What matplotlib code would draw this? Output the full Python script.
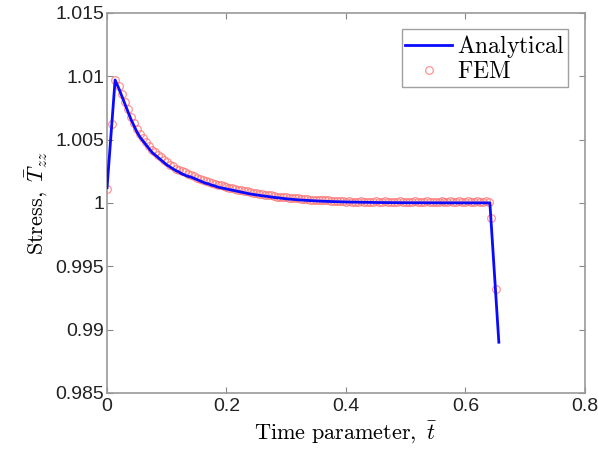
import numpy as np
import matplotlib
matplotlib.use('Agg')
import matplotlib.pyplot as plt

plt.rcParams['mathtext.fontset'] = 'cm'
plt.rcParams['font.family'] = ['Liberation Sans', 'DejaVu Sans']

#Analytical solution
t_an = [0.0, 0.0135, 0.02, 0.025, 0.03, 0.035, 0.04, 0.045, 0.05, 0.055, 0.06,
        0.065, 0.07, 0.075, 0.08, 0.085, 0.09, 0.095, 0.10, 0.105, 0.11, 0.115,
        0.12, 0.125, 0.13, 0.135, 0.14, 0.145, 0.15, 0.155, 0.16, 0.165, 0.17,
        0.175, 0.18, 0.185, 0.19, 0.195, 0.20, 0.21, 0.22, 0.23, 0.24, 0.25,
        0.26, 0.27, 0.28, 0.29, 0.30, 0.31, 0.32, 0.34, 0.36, 0.38, 0.40, 0.45,
        0.50, 0.55, 0.60, 0.641, 0.656]
s_an = [1.0012, 1.0097, 1.0090, 1.0084, 1.0078, 1.0072, 1.0066, 1.0061, 1.0056,
        1.0052, 1.0049, 1.0046, 1.0043, 1.0040, 1.0038, 1.0036, 1.0034, 1.0032,
        1.0030, 1.00285, 1.0027, 1.00255, 1.00245, 1.0023, 1.0022, 1.0021,
        1.00205, 1.00195, 1.00185, 1.00175, 1.00165, 1.00155, 1.0015, 1.0014,
        1.00135, 1.00125, 1.0012, 1.00115, 1.0011, 1.0010, 1.0009, 1.0008,
        1.0007, 1.00063, 1.00056, 1.0005, 1.00043, 1.00038, 1.00032, 1.00028,
        1.00024, 1.00018, 1.00013, 1.0001, 1.00007, 1.00003, 1.00001, 1.000005,
        1.0, 1.0, 0.9890]

#FEM results: first points, uniform steps 0.02..0.64, then the unloading
t_fem_start = [0.0, 0.0085, 0.014]
s_fem_start = [1.0011, 1.0062, 1.0097]
t_fem_mid = np.round(np.arange(0.02, 0.6401, 0.005), 3)
s_fem_mid = [1.0092, 1.0086, 1.0080, 1.0074, 1.0068, 1.0063, 1.0058, 1.0054,
             1.0051, 1.0048, 1.0045, 1.0042, 1.0040, 1.0038, 1.0036, 1.0034,
             1.0032, 1.0030, 1.0029, 1.0027, 1.0026, 1.0025, 1.0024, 1.0023,
             1.0022, 1.0021, 1.0020, 1.0019, 1.0018, 1.0017, 1.00165, 1.0016,
             1.0015, 1.00145, 1.0014, 1.0013, 1.00125, 1.0012, 1.00115, 1.0011,
             1.00105, 1.0010, 1.00095, 1.0009, 1.00085, 1.0008, 1.00075, 1.0007,
             1.0007, 1.00065, 1.0006, 1.0006, 1.00055, 1.0005, 1.0005, 1.00045,
             1.00045, 1.0004, 1.0004, 1.00035, 1.00035, 1.0003, 1.0003, 1.0003,
             1.00025, 1.00025, 1.00025, 1.0002, 1.0002, 1.0002, 1.0002, 1.00015,
             1.00015, 1.00015, 1.00015, 1.00015, 1.0001, 1.00015, 1.0001,
             1.00005, 1.0001, 1.00015, 1.0001, 1.0001, 1.00005, 1.0001, 1.00015,
             1.0001, 1.0001, 1.00015, 1.0001, 1.00005, 1.0001, 1.0001, 1.00015,
             1.0001, 1.0001, 1.00005, 1.0001, 1.00015, 1.0001, 1.0001, 1.0001,
             1.00015, 1.0001, 1.00005, 1.0001, 1.0001, 1.00015, 1.0001, 1.0001,
             1.00015, 1.0001, 1.0001, 1.00015, 1.0001, 1.0001, 1.00015, 1.0001,
             1.0001, 1.00015, 1.0001, 1.0001, 1.00015, 1.0001]
t_fem_end = [0.6427, 0.651]
s_fem_end = [0.99879, 0.99318]

t_fem = np.concatenate([t_fem_start, t_fem_mid, t_fem_end])
s_fem = np.concatenate([s_fem_start, s_fem_mid, s_fem_end])

xticks = [0, 0.2, 0.4, 0.6, 0.8]
xtick_labels = ['0', '0.2', '0.4', '0.6', '0.8']
yticks = [0.985, 0.99, 0.995, 1.0, 1.005, 1.01, 1.015]
ytick_labels = ['0.985', '0.99', '0.995', '1', '1.005', '1.01', '1.015']

fig = plt.figure(figsize=(5.98, 4.59), dpi=100)
ax = fig.add_axes([0.179, 0.144, 0.799, 0.828])

ax.plot(t_an, s_an, color='#0a0aff', lw=2, label=r'$\mathrm{Analytical}$', zorder=3)
ax.plot(t_fem, s_fem, 'o', ms=5.5, mfc='none', mec='#ff7070', mew=0.9,
        alpha=0.75, label=r'$\mathrm{FEM}$', zorder=2)

ax.set_xlim(0, 0.8)
ax.set_ylim(0.985, 1.015)
ax.set_xticks(xticks)
ax.set_xticklabels(xtick_labels)
ax.set_yticks(yticks)
ax.set_yticklabels(ytick_labels)
ax.tick_params(direction='in', top=True, right=True, labelsize=14,
               length=4, color='#888888', labelcolor='#222222')
ax.tick_params(axis='x', pad=4)
ax.tick_params(axis='y', pad=2)
for sp in ax.spines.values():
    sp.set_color('#999999')
    sp.set_linewidth(1.2)

ax.set_xlabel(r'$\mathrm{Time\ parameter},\ \bar{t}$', fontsize=16, labelpad=3)
ax.set_ylabel(r'$\mathrm{Stress},\ \bar{T}_{zz}$', fontsize=16, labelpad=4)

leg = ax.legend(loc='upper right', fontsize=17, fancybox=False,
                handlelength=2.0, handletextpad=0.2, borderpad=0.15,
                labelspacing=0.05, borderaxespad=0.7)
leg.get_frame().set_edgecolor('#888888')
leg.get_frame().set_linewidth(1.0)

plt.savefig('out.png', dpi=100)
